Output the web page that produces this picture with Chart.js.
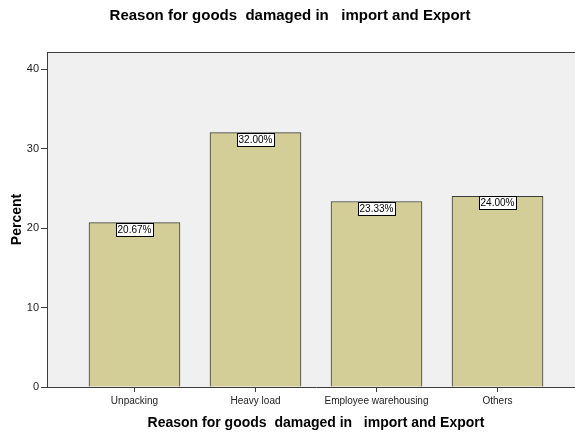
<!DOCTYPE html>
<html>
<head>
<meta charset="utf-8">
<script src="https://cdn.jsdelivr.net/npm/chart.js@4/dist/chart.umd.min.js"></script>
<style>
  html, body { margin: 0; padding: 0; background: #fff; overflow: hidden; }
  #wrap { width: 575px; height: 434px; overflow: hidden; }
</style>
</head>
<body>
<div id="wrap"><canvas id="myChart" width="600" height="434"></canvas></div>
<script>
// chart data
const categories = ["Unpacking", "Heavy load", "Employee warehousing", "Others"];
const percentValues = [20.67, 32.00, 23.33, 24.00];
const yTicks = [0, 10, 20, 30, 40];
const chartTitle = "Reason for goods  damaged in   import and Export";
const xTitle = "Reason for goods  damaged in   import and Export";
const yTitle = "Percent";

const FONT = "Arial, 'Liberation Sans', sans-serif";
const LINE = "#3c3c3c";

// gray plot background with top border
const plotBackground = {
    id: "plotBackground",
    beforeDraw(chart) {
        const a = chart.chartArea;
        const ctx = chart.ctx;
        ctx.save();
        ctx.fillStyle = "#f0f0f0";
        ctx.fillRect(a.left, a.top, a.right - a.left, a.bottom - a.top);
        ctx.strokeStyle = LINE;
        ctx.lineWidth = 1;
        ctx.beginPath();
        ctx.moveTo(a.left, a.top + 0.5);
        ctx.lineTo(a.right, a.top + 0.5);
        ctx.stroke();
        ctx.restore();
    }
};

// main title, centred on the visible window
const mainTitle = {
    id: "mainTitle",
    afterDraw(chart) {
        const ctx = chart.ctx;
        ctx.save();
        ctx.font = "bold 15px " + FONT;
        ctx.fillStyle = "#000";
        ctx.textAlign = "center";
        ctx.textBaseline = "middle";
        ctx.fillText(chartTitle, 290, 16);
        ctx.restore();
    }
};

// boxed percentage labels at the top of each bar
const barLabels = {
    id: "barLabels",
    afterDatasetsDraw(chart) {
        const ctx = chart.ctx;
        const meta = chart.getDatasetMeta(0);
        ctx.save();
        ctx.font = "10px " + FONT;
        ctx.textAlign = "center";
        ctx.textBaseline = "middle";
        meta.data.forEach((bar, i) => {
            const text = percentValues[i].toFixed(2) + "%";
            const w = Math.round(ctx.measureText(text).width) + 3;
            const h = 13;
            const x = Math.round(bar.x - w / 2) + 0.5;
            const y = Math.round(bar.y) + 0.5;
            ctx.fillStyle = "#fff";
            ctx.fillRect(x, y, w, h);
            ctx.strokeStyle = "#000";
            ctx.lineWidth = 1;
            ctx.strokeRect(x, y, w, h);
            ctx.fillStyle = "#000";
            ctx.fillText(text, bar.x, y + h / 2 + 0.5);
        });
        ctx.restore();
    }
};

const ctx = document.getElementById("myChart").getContext("2d");
const myChart = new Chart(ctx, {
    type: "bar",
    data: {
        datasets: [{
            label: "Percent",
            data: percentValues.map((v, i) => ({ x: i, y: v })),
            backgroundColor: "#d3ce98",
            borderColor: LINE,
            borderWidth: 1,
            barThickness: 91
        }]
    },
    plugins: [plotBackground, barLabels, mainTitle],
    options: {
        responsive: false,
        animation: false,
        layout: { padding: { top: 52, right: 15, bottom: 0, left: 0 } },
        plugins: {
            legend: { display: false },
            tooltip: { enabled: false }
        },
        scales: {
            x: {
                type: "linear",
                offset: false,
                min: -0.723,
                max: 3.723,
                afterBuildTicks(scale) {
                    scale.ticks = categories.map((c, i) => ({ value: i }));
                },
                afterFit(scale) { scale.height = 47; },
                grid: { drawOnChartArea: false, drawTicks: true, tickLength: 5, color: LINE, offset: false },
                border: { display: true, color: LINE, width: 1 },
                ticks: {
                    autoSkip: false,
                    maxRotation: 0,
                    padding: 3,
                    color: "#222",
                    font: { family: FONT, size: 10 },
                    callback: (v) => categories[v]
                },
                title: {
                    display: true,
                    text: xTitle,
                    color: "#000",
                    font: { family: FONT, size: 14, weight: "bold" },
                    padding: { top: 0, bottom: 2.6 }
                }
            },
            y: {
                min: 0,
                max: 42.14,
                afterBuildTicks(scale) {
                    scale.ticks = yTicks.map(v => ({ value: v }));
                },
                afterFit(scale) { scale.width = 47; },
                grid: { drawOnChartArea: false, drawTicks: true, tickLength: 6, color: LINE },
                border: { display: true, color: LINE, width: 1 },
                ticks: {
                    padding: 2,
                    color: "#222",
                    font: { family: FONT, size: 11 }
                },
                title: {
                    display: true,
                    text: yTitle,
                    color: "#000",
                    font: { family: FONT, size: 14, weight: "bold" },
                    padding: { top: 8.6, bottom: 0 }
                }
            }
        }
    }
});
</script>
</body>
</html>
